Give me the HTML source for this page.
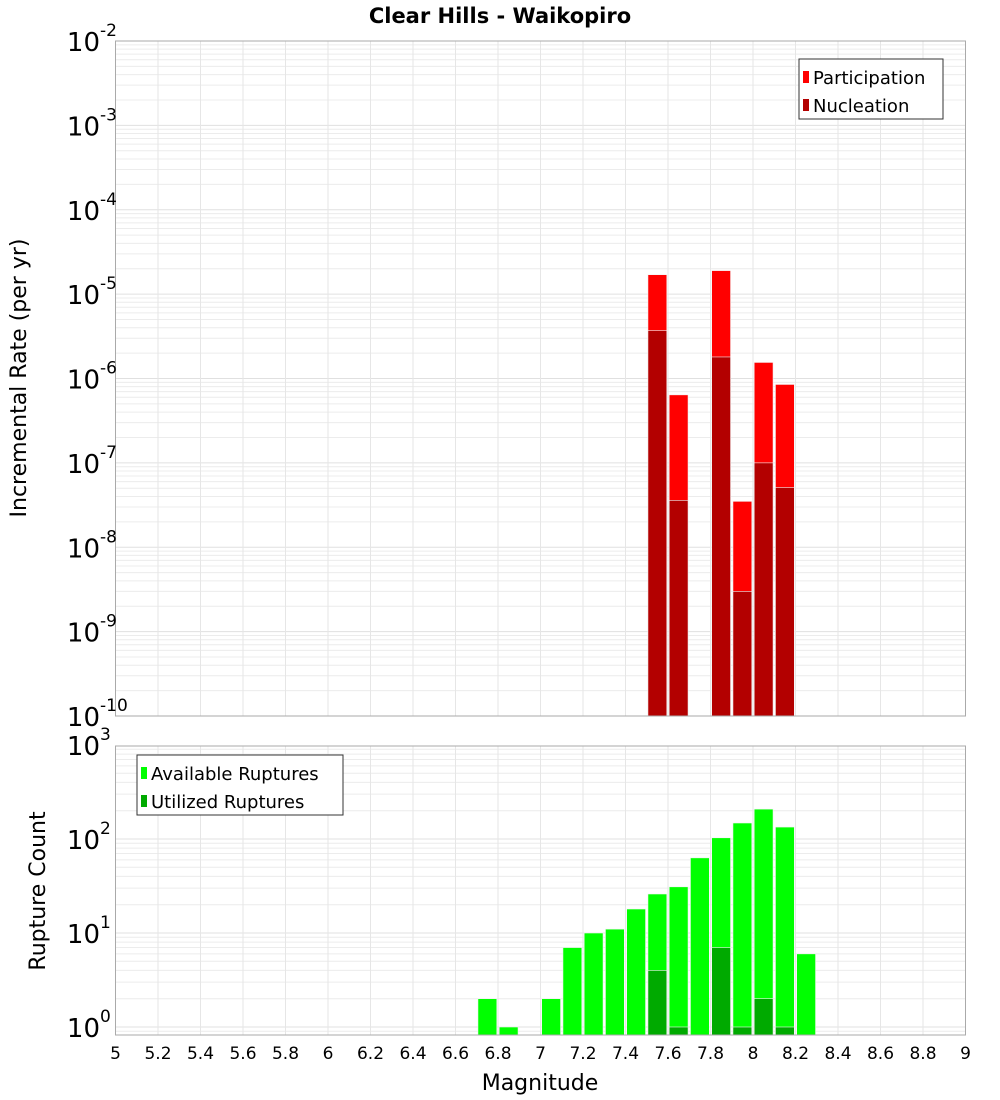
<!DOCTYPE html>
<html><head><meta charset="utf-8"><style>
body{margin:0;background:#fff;}
svg{display:block;font-family:"DejaVu Sans","Liberation Sans",sans-serif;}
</style></head><body>
<svg id="chart" width="1000" height="1100" viewBox="0 0 1000 1100" xmlns="http://www.w3.org/2000/svg">
<text x="500" y="23" text-anchor="middle" font-size="21" font-weight="bold">Clear Hills - Waikopiro</text>
<g id="top"></g>
<g id="bot"></g>
<text transform="translate(26,378) rotate(-90)" text-anchor="middle" font-size="22">Incremental Rate (per yr)</text>
<text transform="translate(45,891) rotate(-90)" text-anchor="middle" font-size="22">Rupture Count</text>
<text x="540" y="1090" text-anchor="middle" font-size="22">Magnitude</text>
</svg>
<script>
const binCenters=[6.75,6.85,6.95,7.05,7.15,7.25,7.35,7.45,7.55,7.65,7.75,7.85,7.95,8.05,8.15,8.25];
const participation=[0,0,0,0,0,0,0,0,1.7e-5,6.4e-7,0,1.9e-5,3.5e-8,1.55e-6,8.5e-7,0];
const nucleation=[0,0,0,0,0,0,0,0,3.7e-6,3.6e-8,0,1.8e-6,3e-9,1e-7,5.1e-8,0];
const available=[2,1,0,2,7,10,11,18,26,31,63,103,148,208,134,6];
const utilized=[0,0,0,0,0,0,0,0,4,1,0,7,1,2,1,0];
const xTicks=[5,5.2,5.4,5.6,5.8,6,6.2,6.4,6.6,6.8,7,7.2,7.4,7.6,7.8,8,8.2,8.4,8.6,8.8,9];
const topDecades=[-2,-3,-4,-5,-6,-7,-8,-9,-10];
const botDecades=[0,1,2,3];

const NS="http://www.w3.org/2000/svg";
const L=115.5,R=965.5;
const xs=m=>L+(m-5)/4*(R-L);
const T1=41,B1=716,yTop=v=>T1+(-2-Math.log10(v))/8*(B1-T1);
const T2=746,B2=1035,Y0=1027,DEC=94,yBot=v=>Y0-Math.log10(v)*DEC;
function el(p,tag,a){const e=document.createElementNS(NS,tag);for(const k in a)e.setAttribute(k,a[k]);p.appendChild(e);return e;}
function panel(g,T,B,yf,dmin,dmax,vmin,name){
  for(let d=dmin;d<=dmax;d++)for(let k=1;k<10;k++){const v=k*Math.pow(10,d);if(v<vmin)continue;const y=yf(v);if(y<T||y>B)continue;
    const ln=el(g,'line',{x1:L,x2:R,y1:y,y2:y,stroke:k==1?'#e0e0e0':'#ececec','stroke-width':1});
    
    }
  xTicks.forEach(t=>{const ln=el(g,'line',{x1:xs(t),x2:xs(t),y1:T,y2:B,stroke:'#e6e6e6','stroke-width':1});
    
    });
}
function frame(g,T,B,name){const r=el(g,'rect',{x:L,y:T,width:R-L,height:B-T,fill:'none',stroke:'#aaa','stroke-width':1});
  
  }
function ylab(g,y,d,name){const t=el(g,'text',{x:100,y:y+10,'text-anchor':'end','font-size':26});t.textContent='10';
  
  
  const s=el(g,'text',{x:100,y:y-5,'font-size':17});s.textContent=String(d);
  
  }
function bar(g,m,v,yf,base,fill,name){if(!v)return;const x0=xs(m-0.05)+1.2,x1=xs(m+0.05)-1.2;const y=yf(v);
  const r=el(g,'rect',{x:x0,y:y,width:x1-x0,height:base-y,fill:fill,stroke:'#f4f4f4','stroke-width':0.6});
  
  }
function legend(g,x,y,w,items,name){const r=el(g,'rect',{x:x,y:y,width:w,height:60,fill:'#fff',stroke:'#333','stroke-width':1});
  
  
  items.forEach((it,i)=>{const yy=y+19+i*28;const s=el(g,'rect',{x:x+4,y:yy-7,width:6,height:12,fill:it[1]});
    
    
    const t=el(g,'text',{x:x+14,y:yy+6,'font-size':18});t.textContent=it[0];
    
    });}

const gt=document.getElementById('top');
panel(gt,T1,B1,yTop,-10,-3,1e-10,'top');
binCenters.forEach((m,i)=>bar(gt,m,participation[i],yTop,B1,'#ff0000','participation-bar'));
binCenters.forEach((m,i)=>bar(gt,m,nucleation[i],yTop,B1,'#b30000','nucleation-bar'));
frame(gt,T1,B1,'top');
topDecades.forEach(d=>ylab(gt,yTop(Math.pow(10,d)),d,'top'));
legend(gt,799,59,144,[['Participation','#ff0000'],['Nucleation','#b30000']],'top-legend');

const gb=document.getElementById('bot');
panel(gb,T2,B2,yBot,-1,2,0.8,'bottom');
binCenters.forEach((m,i)=>bar(gb,m,available[i],yBot,B2,'#00ff00','available-bar'));
binCenters.forEach((m,i)=>bar(gb,m,utilized[i],yBot,B2,'#00aa00','utilized-bar'));
frame(gb,T2,B2,'bottom');
botDecades.forEach(d=>ylab(gb,yBot(Math.pow(10,d)),d,'bottom'));
legend(gb,137,755,206,[['Available Ruptures','#00ff00'],['Utilized Ruptures','#00aa00']],'bottom-legend');
xTicks.forEach(t=>{const tx=el(gb,'text',{x:xs(t),y:1059,'text-anchor':'middle','font-size':17});tx.textContent=String(t);
  
  });
</script>
</body></html>
